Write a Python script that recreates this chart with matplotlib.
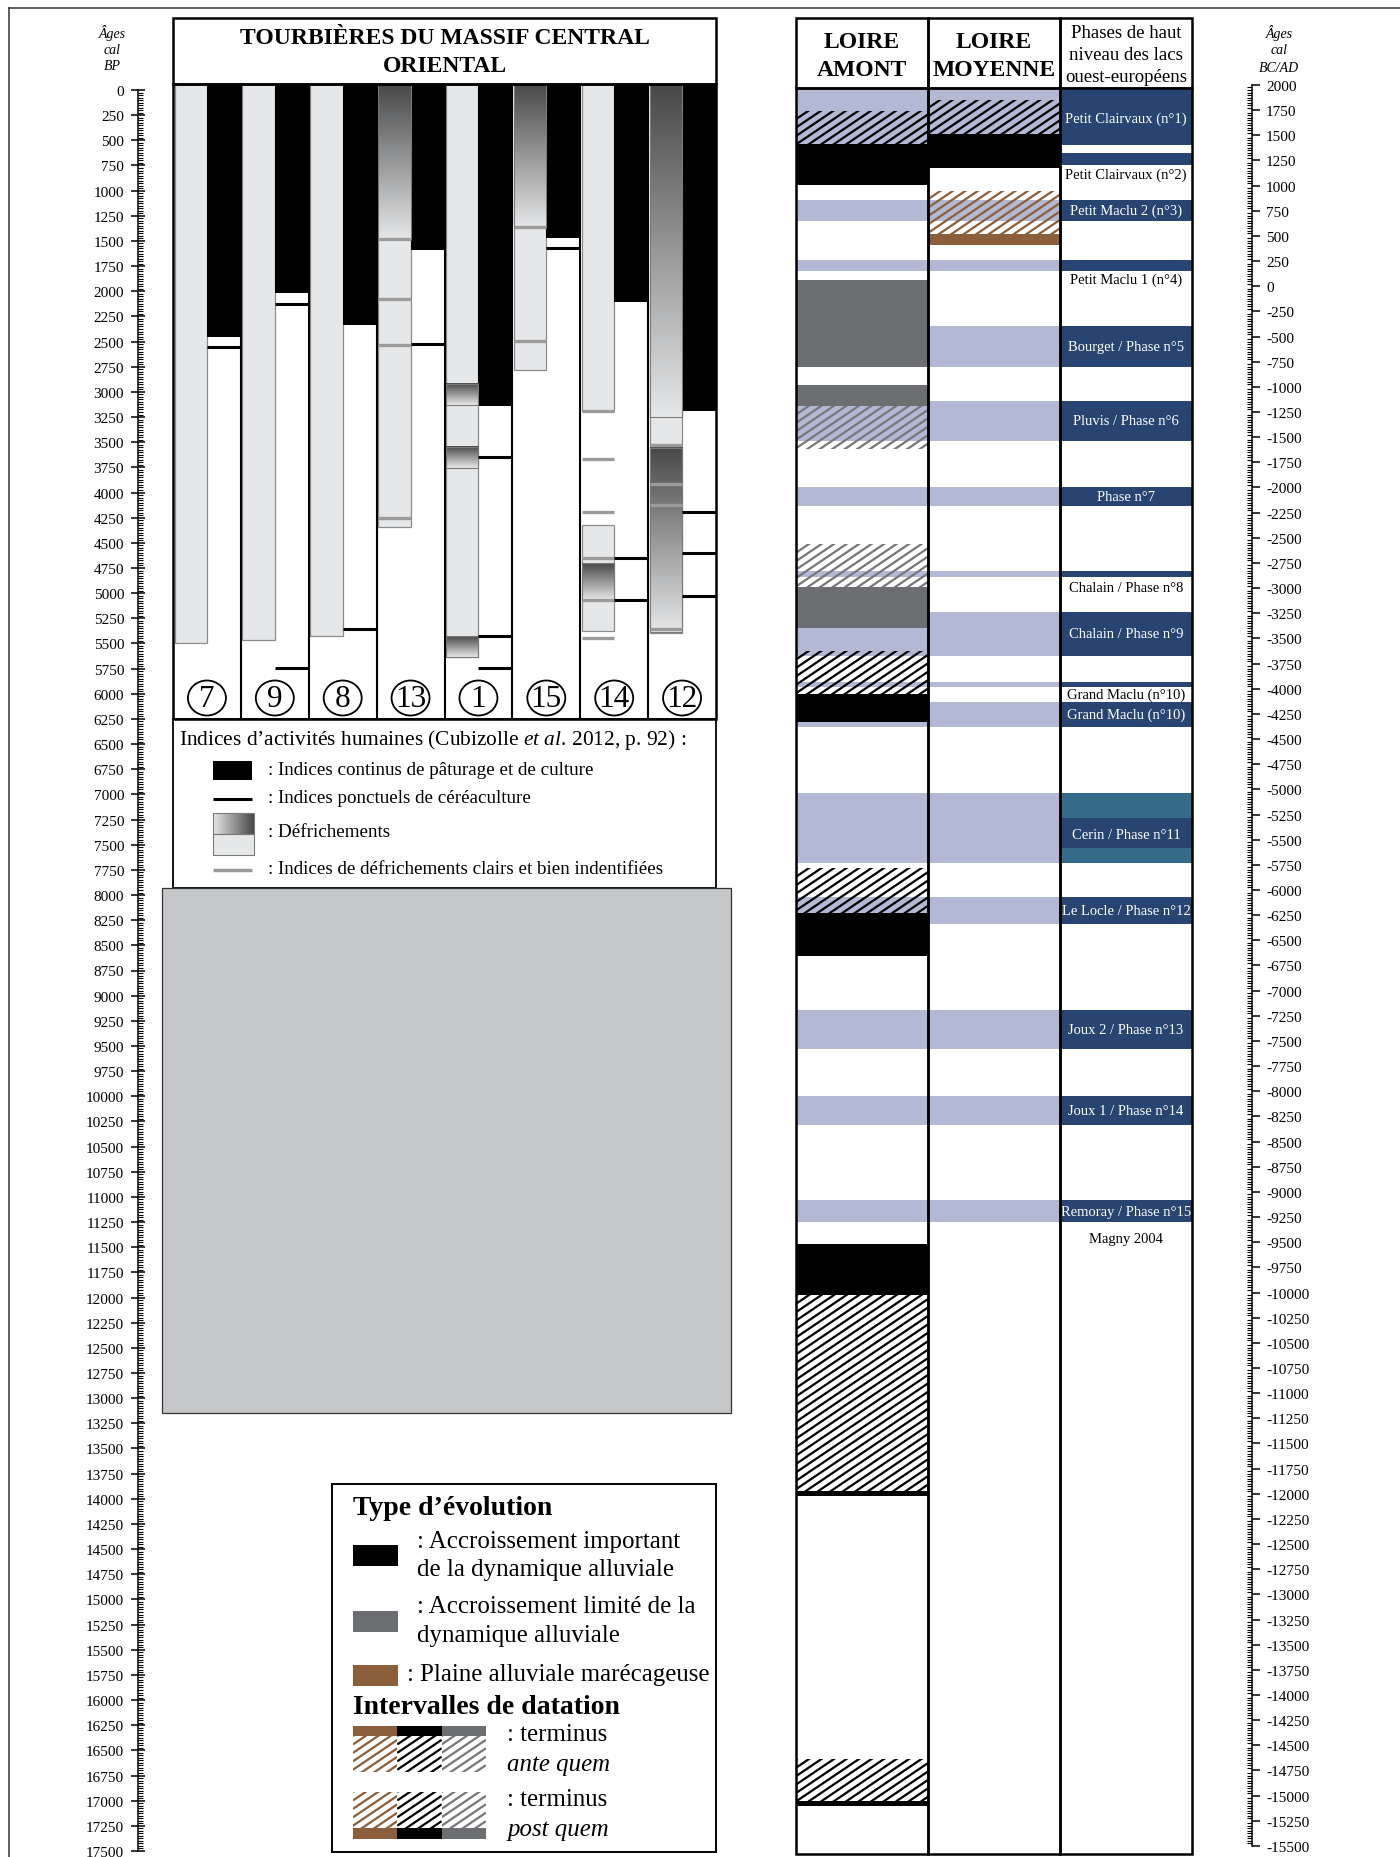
import numpy as np
import matplotlib
matplotlib.use('Agg')
import matplotlib.pyplot as plt
from matplotlib.patches import Rectangle, Ellipse
from matplotlib.collections import LineCollection
from matplotlib.colors import LinearSegmentedColormap
from matplotlib.ticker import FixedLocator

plt.rcParams['font.family'] = ['Liberation Serif', 'DejaVu Serif']
plt.rcParams['mathtext.fontset'] = 'custom'
plt.rcParams['mathtext.rm'] = 'Liberation Serif'
plt.rcParams['mathtext.it'] = 'Liberation Serif:italic'

# ---------------- tourbières (âges cal BP) ----------------
sites = ['7', '9', '8', '13', '1', '15', '14', '12']
clear_bars = [[(0, 5500)], [(0, 5470)], [(0, 5430)], [(0, 4345)], [(0, 5636)],
              [(0, 2779)], [(0, 3190), (4320, 5375)], [(0, 5400)]]
clear_grad = [[], [], [], [(0, 1480)], [(2920, 3135), (3550, 3760), (5430, 5636)],
              [(0, 1360)], [(4705, 5067)], [(0, 3245), (3560, 5390)]]
clear_marks = [[], [], [], [1480, 2075, 2530, 4255], [], [1365, 2495],
               [3190, 3670, 4190, 4650, 5067, 5445], [3530, 3920, 4125, 5355]]
pasture_end = [2450, 2015, 2340, 1590, 3140, 1470, 2108, 3190]
cereal_marks = [[2550], [2125, 5748], [5360], [2522], [3648, 5425, 5748],
                [1566], [4650, 5067], [4196, 4600, 5025]]

# ---------------- phases lacustres (BC/AD) ----------------
phase_top = [1954, 1325, 858, 262, -394, -1138, -1995, -2829, -3234, -3932,
             -4130, -5034, -6073, -7191, -8045, -9083]
phase_bot = [1407, 1209, 652, 156, -798, -1537, -2186, -2885, -3679, -3982,
             -4377, -5736, -6341, -7582, -8333, -9298]
phase_names = ['Petit Clairvaux (n°1)', 'Petit Clairvaux (n°2)', 'Petit Maclu 2 (n°3)',
               'Petit Maclu 1 (n°4)', 'Bourget / Phase n°5', 'Pluvis / Phase n°6',
               'Phase n°7', 'Chalain / Phase n°8', 'Chalain / Phase n°9',
               'Grand Maclu (n°10)', 'Grand Maclu (n°10)', 'Cerin / Phase n°11',
               'Le Locle / Phase n°12', 'Joux 2 / Phase n°13', 'Joux 1 / Phase n°14',
               'Remoray / Phase n°15']
phase_label_ad = [1672, 1116, 755, 66, -596, -1337, -2090, -2997, -3456, -4054,
                  -4253, -5445, -6207, -7386, -8189, -9190]
phase_label_inside = [True, False, True, False, True, True, True, False, True, False,
                      True, True, True, True, True, True]
cerin_teal = [(-5034, -5283), (-5587, -5736)]

amont_blocks = [('black', 1413, 1006), ('grey', 63, -798), ('grey', -984, -1191),
                ('grey', -2993, -3395), ('black', -4054, -4334), ('black', -6232, -6652),
                ('black', -9520, -10028), ('black', -11977, -12024), ('black', -15058, -15105)]
amont_hatch = [('black', 1744, 1413), ('grey', -1191, -1619), ('grey', -2565, -2993),
               ('black', -3626, -4054), ('black', -5785, -6232), ('black', -10028, -11977),
               ('black', -14639, -15058)]
moyenne_blocks = [('black', 1513, 1175), ('brown', 520, 412)]
moyenne_hatch = [('black', 1854, 1513), ('brown', 948, 520)]

bp_ticks = list(range(0, 17501, 250))
ad_ticks = list(range(2000, -15501, -250))

C_BLUE_L = '#b3b9d4'
C_BLUE_D = '#284471'
C_TEAL = '#366a89'
C_GREY = '#6d6e71'
C_BROWN = '#8b5e3c'
C_CLEAR = '#e6e7e8'
C_MARK = '#9b9b9b'
C_DARK = '#484849'
fill_col = {'black': 'black', 'grey': C_GREY, 'brown': C_BROWN}
hatch_col = {'black': 'black', 'grey': '#76777a', 'brown': C_BROWN}

PX = 1761 / 17500          # pixels per year on the vertical scale


def bp(py):
    # pixel row of the page -> age cal BP
    return (py - 91) / PX


def ad2bp(a):
    return 1950 - a


fig = plt.figure(figsize=(14, 18.58), dpi=100)
ax = fig.add_axes([0, 0, 1, 1])


def hatch(x0, x1, t, b, color, step=12.5, ang=34, lw=1.6, z=3):
    tan = np.tan(np.radians(ang))
    yt, yb = 91 + t * PX, 91 + b * PX
    w = x1 - x0
    segs = []
    c = yt
    while c < yb + w * tan + step * tan:
        segs.append([(x0, bp(c)), (x1, bp(c - w * tan))])
        c += step * tan
    clip = Rectangle((x0, t), w, b - t, transform=ax.transData, fill=False, lw=0)
    lc = LineCollection(segs, colors=color, linewidths=lw, zorder=z)
    ax.add_collection(lc)
    lc.set_clip_path(clip)


def gradient(x0, x1, t, b, c0=C_DARK, c1=C_CLEAR, horizontal=False, z=3):
    cmap = LinearSegmentedColormap.from_list('g', [c0, c1])
    arr = np.linspace(0, 1, 256).reshape(-1, 1)
    if horizontal:
        arr = arr.T
    ax.imshow(arr, cmap=cmap, extent=(x0, x1, b, t), aspect='auto', origin='upper',
              interpolation='bilinear', zorder=z)
    ax.add_patch(Rectangle((x0, t), x1 - x0, b - t, fill=False, ec='#7a7a7a', lw=0.8, zorder=z + 0.1))


def box(x0, y0, x1, y1, lw=1.8, z=8, **kw):
    ax.add_patch(Rectangle((x0, bp(y0)), x1 - x0, bp(y1) - bp(y0), fill=False, ec='black',
                           lw=lw, zorder=z, **kw))


# page frame
ax.plot([9, 1400], [bp(9), bp(9)], color='#333333', lw=1.1)
ax.plot([9, 9], [bp(9), bp(1858)], color='#333333', lw=1.1)

# ---------------- left panel ----------------
L0, L1 = 173, 716
SW = (L1 - L0) / len(sites)
P_TOP, P_BOT = bp(85), bp(720)

for i, s in enumerate(sites):
    xs = L0 + i * SW
    gx0, gx1 = xs + 1.5, xs + SW / 2
    hx0, hx1 = xs + SW / 2, xs + SW
    for t, b in clear_bars[i]:
        t = P_TOP if t == 0 else t
        ax.add_patch(Rectangle((gx0, t), gx1 - gx0, b - t, fc=C_CLEAR, ec='#8c8c8c', lw=0.9, zorder=2))
    for t, b in clear_grad[i]:
        t = P_TOP if t == 0 else t
        gradient(gx0, gx1, t, b)
    for m in clear_marks[i]:
        ax.hlines(m, gx0, gx1, colors=C_MARK, lw=2.4, zorder=4)
    ax.add_patch(Rectangle((hx0, P_TOP), SW / 2, pasture_end[i] - P_TOP, fc='black', lw=0, zorder=2))
    for m in cereal_marks[i]:
        ax.hlines(m, hx0, hx1, colors='black', lw=2.2, zorder=4)
    ax.add_patch(Ellipse((xs + SW / 2, bp(699)), 38, 35 / PX, fc='white', ec='black', lw=1.3, zorder=5))
    ax.text(xs + SW / 2, bp(700), s, ha='center', va='center', fontsize=22.5, zorder=6)
    if i:
        ax.vlines(xs, P_TOP, P_BOT, colors='black', lw=1.5, zorder=5)

box(L0, 19, L1, 85)
box(L0, 85, L1, 720)
box(L0, 720, L1, 889, lw=1.3)
ax.text((L0 + L1) / 2, bp(39), 'TOURBIÈRES DU MASSIF CENTRAL', ha='center', va='center',
        fontsize=17, fontweight='bold')
ax.text((L0 + L1) / 2, bp(67), 'ORIENTAL', ha='center', va='center', fontsize=17, fontweight='bold')

# legend of human activity
ax.text(179, bp(740), r'Indices d’activités humaines (Cubizolle $\mathit{et\ al.}\,$2012, p. 92) :',
        va='center', fontsize=15.4)
ax.add_patch(Rectangle((213, bp(762)), 39, bp(781) - bp(762), fc='black', lw=0))
ax.text(268, bp(771), ': Indices continus de pâturage et de culture', va='center', fontsize=13.7)
ax.hlines(bp(800), 213, 252, colors='black', lw=2.2)
ax.text(268, bp(799), ': Indices ponctuels de céréaculture', va='center', fontsize=13.7)
gradient(213, 254, bp(814), bp(835), c0=C_CLEAR, c1=C_DARK, horizontal=True)
ax.add_patch(Rectangle((213, bp(835)), 41, bp(856) - bp(835), fc=C_CLEAR, ec='#7a7a7a', lw=0.8, zorder=3))
ax.text(268, bp(833), ': Défrichements', va='center', fontsize=13.7)
ax.hlines(bp(871), 213, 252, colors=C_MARK, lw=2.5)
ax.text(268, bp(870), ': Indices de défrichements clairs et bien indentifiées', va='center', fontsize=13.7)

ax.add_patch(Rectangle((162, bp(889)), 731 - 162, bp(1414) - bp(889), fc='#c6c7c9', ec='#333333',
                       lw=0.9, zorder=9))

# legend of alluvial evolution
box(332, 1485, 716, 1853, lw=1.4)
ax.text(353, bp(1509), 'Type d’évolution', va='center', fontsize=20, fontweight='bold')
for yy, key in [(1546, 'black'), (1612, 'grey'), (1666, 'brown')]:
    ax.add_patch(Rectangle((353, bp(yy)), 45, bp(yy + 21) - bp(yy), fc=fill_col[key], lw=0))
ax.text(417, bp(1542), ': Accroissement important', va='center', fontsize=17.9)
ax.text(417, bp(1570), 'de la dynamique alluviale', va='center', fontsize=17.9)
ax.text(417, bp(1607), ': Accroissement limité de la', va='center', fontsize=17.9)
ax.text(417, bp(1636), 'dynamique alluviale', va='center', fontsize=17.9)
ax.text(407, bp(1675), ': Plaine alluviale marécageuse', va='center', fontsize=17.9)
ax.text(353, bp(1708), 'Intervalles de datation', va='center', fontsize=20, fontweight='bold')
for j, key in enumerate(['brown', 'black', 'grey']):
    x0 = 353 + j * 44.3
    x1 = x0 + 44.3
    ax.add_patch(Rectangle((x0, bp(1727)), x1 - x0, bp(1737) - bp(1727), fc=fill_col[key], lw=0))
    hatch(x0, x1, bp(1737), bp(1773), hatch_col[key])
    hatch(x0, x1, bp(1793), bp(1829), hatch_col[key])
    ax.add_patch(Rectangle((x0, bp(1829)), x1 - x0, bp(1840) - bp(1829), fc=fill_col[key], lw=0))
ax.text(507, bp(1735), ': terminus', va='center', fontsize=17.9)
ax.text(507, bp(1765), 'ante quem', va='center', fontsize=17.9, style='italic')
ax.text(507, bp(1800), ': terminus', va='center', fontsize=17.9)
ax.text(507, bp(1830), 'post quem', va='center', fontsize=17.9, style='italic')

# ---------------- right panel ----------------
A0, A1, M1, F1 = 796, 928, 1060, 1192

for k in range(len(phase_top)):
    t, b = ad2bp(phase_top[k]), ad2bp(phase_bot[k])
    ax.add_patch(Rectangle((A0, t), M1 - A0, b - t, fc=C_BLUE_L, lw=0, zorder=1))
    ax.add_patch(Rectangle((M1, t), F1 - M1, b - t, fc=C_BLUE_D, lw=0, zorder=1))
    col = 'white' if phase_label_inside[k] else 'black'
    ax.text((M1 + F1) / 2, ad2bp(phase_label_ad[k]), phase_names[k], ha='center', va='center',
            fontsize=10.5, color=col, zorder=4)
for t, b in cerin_teal:
    ax.add_patch(Rectangle((M1, ad2bp(t)), F1 - M1, ad2bp(b) - ad2bp(t), fc=C_TEAL, lw=0, zorder=1.5))
ax.text((M1 + F1) / 2, ad2bp(-9467), 'Magny 2004', ha='center', va='center', fontsize=10.5)

for (x0, x1), blocks, hatches in [((A0, A1), amont_blocks, amont_hatch),
                                  ((A1, M1), moyenne_blocks, moyenne_hatch)]:
    for key, t, b in blocks:
        ax.add_patch(Rectangle((x0, ad2bp(t)), x1 - x0, ad2bp(b) - ad2bp(t), fc=fill_col[key], lw=0, zorder=2))
    for key, t, b in hatches:
        hatch(x0, x1, ad2bp(t), ad2bp(b), hatch_col[key])

for x0, x1 in [(A0, A1), (A1, M1), (M1, F1)]:
    box(x0, 19, x1, 89)
    box(x0, 89, x1, 1855)
for xc, l1, l2 in [((A0 + A1) / 2, 'LOIRE', 'AMONT'), ((A1 + M1) / 2, 'LOIRE', 'MOYENNE')]:
    ax.text(xc, bp(42), l1, ha='center', va='center', fontsize=17, fontweight='bold')
    ax.text(xc, bp(70), l2, ha='center', va='center', fontsize=17, fontweight='bold')
for yy, s in [(34, 'Phases de haut'), (56, 'niveau des lacs'), (78, 'ouest-européens')]:
    ax.text((M1 + F1) / 2, bp(yy), s, ha='center', va='center', fontsize=13.5)

# axis titles
for yy, s in [(33, 'Âges'), (51, 'cal'), (67, 'BP')]:
    ax.text(112, bp(yy), s, ha='center', va='center', fontsize=10, style='italic')
for yy, s in [(33, 'Âges'), (51, 'cal'), (68, 'BC/AD')]:
    ax.text(1279, bp(yy), s, ha='center', va='center', fontsize=10, style='italic')

ax.set_xlim(0, 1400)
ax.set_ylim(bp(1858), bp(0))
ax.axis('off')

# ---------------- rulers ----------------
axl = fig.add_axes([138 / 1400, 0, 0.0001, 1])
axl.set_ylim(bp(1858), bp(0))
axl.patch.set_visible(False)
for sp in ['top', 'bottom', 'right']:
    axl.spines[sp].set_visible(False)
axl.spines['left'].set_bounds(0, 17500)
axl.spines['left'].set_linewidth(1.1)
axl.set_xticks([])
axl.yaxis.set_major_locator(FixedLocator(bp_ticks))
axl.set_yticklabels([str(v) for v in bp_ticks])
axl.yaxis.set_minor_locator(FixedLocator(list(range(0, 17501, 25))))
axl.tick_params(axis='y', which='major', direction='inout', length=10, width=1.1, labelsize=11, pad=5)
axl.tick_params(axis='y', which='minor', direction='in', length=3.5, width=0.8)

axr = fig.add_axes([1252 / 1400, 0, 0.0001, 1])
axr.set_ylim(bp(1858), bp(0))
axr.patch.set_visible(False)
for sp in ['top', 'bottom', 'left']:
    axr.spines[sp].set_visible(False)
axr.spines['right'].set_bounds(ad2bp(2000), ad2bp(-15500))
axr.spines['right'].set_linewidth(1.1)
axr.set_xticks([])
axr.yaxis.tick_right()
axr.yaxis.set_major_locator(FixedLocator([ad2bp(v) for v in ad_ticks]))
axr.set_yticklabels([str(v) for v in ad_ticks])
axr.yaxis.set_minor_locator(FixedLocator([ad2bp(v) for v in range(2000, -15501, -25)]))
axr.tick_params(axis='y', which='major', direction='out', length=6, width=1.1, labelsize=11, pad=4)
axr.tick_params(axis='y', which='minor', direction='in', length=3.5, width=0.8)

fig.savefig('out.png', dpi=100)
